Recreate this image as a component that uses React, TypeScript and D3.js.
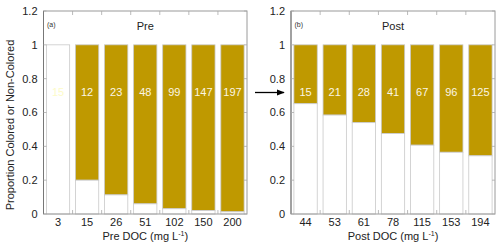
import * as d3 from "d3";

const preDOC = ["3", "15", "26", "51", "102", "150", "200"];
const preNonColored = [1, 0.2, 0.113, 0.06, 0.031, 0.021, 0.013];
const preCounts = [15, 12, 23, 48, 99, 147, 197];

const postDOC = ["44", "53", "61", "78", "115", "153", "194"];
const postNonColored = [0.652, 0.585, 0.54, 0.476, 0.407, 0.365, 0.344];
const postCounts = [15, 21, 28, 41, 67, 96, 125];

const yTicks = [0, 0.2, 0.4, 0.6, 0.8, 1, 1.2];

const GOLD = "#bf9900";
const FONT = "Liberation Sans, Arial, sans-serif";

interface PanelProps {
  x0: number;
  x1: number;
  cats: string[];
  nonColored: number[];
  counts: number[];
  tag: string;
  title: string;
  xTitle: string;
  yTitle?: string;
}

function Panel({ x0, x1, cats, nonColored, counts, tag, title, xTitle, yTitle }: PanelProps) {
  const top = 11;
  const bottom = 214;
  const x = d3.scaleBand<string>().domain(cats).range([x0, x1]).paddingInner(0.2).paddingOuter(0.1);
  const y = d3.scaleLinear().domain([0, 1.2]).range([bottom, top]);
  const step = x.step();
  // boundaries between bands, for the small inward ticks
  const bounds = cats.slice(1).map((c) => (x(c) as number) - (step - x.bandwidth()) / 2);
  const cx = (x0 + x1) / 2;

  return (
    <g fontFamily={FONT}>
      {cats.map((c, i) => {
        const bx = x(c) as number;
        const w = x.bandwidth();
        const v = nonColored[i];
        return (
          <g key={c}>
            {v < 1 && (
              <rect x={bx} y={y(1)} width={w} height={y(v) - y(1)} fill={GOLD} stroke="#c9c9c9" strokeWidth={0.8} />
            )}
            <rect x={bx} y={y(v)} width={w} height={y(0) - y(v)} fill="#fff" stroke="#c9c9c9" strokeWidth={0.8} />
            <text
              x={bx + w / 2}
              y={y(0.72)}
              dy="0.35em"
              textAnchor="middle"
              fontSize={11}
              fill={v < 1 ? "#fbf6e4" : "#fdfbc8"}
            >
              {counts[i]}
            </text>
            <text x={bx + w / 2} y={225.5} textAnchor="middle" fontSize={11} fill="#222">
              {c}
            </text>
          </g>
        );
      })}

      {/* frame */}
      <rect x={x0} y={top} width={x1 - x0} height={bottom - top} fill="none" stroke="#9a9a9a" strokeWidth={1} />
      <line x1={x0} x2={x0} y1={top} y2={bottom} stroke="#777" strokeWidth={1} />

      {bounds.map((b, i) => (
        <g key={i} stroke="#aaa" strokeWidth={0.8}>
          <line x1={b} x2={b} y1={bottom} y2={bottom - 4} />
          <line x1={b} x2={b} y1={top} y2={top + 4} />
        </g>
      ))}

      {yTicks.map((t) => (
        <g key={t}>
          <line x1={x0} x2={x0 + 3} y1={y(t)} y2={y(t)} stroke="#aaa" strokeWidth={0.8} />
          <line x1={x1} x2={x1 - 3} y1={y(t)} y2={y(t)} stroke="#aaa" strokeWidth={0.8} />
          <text x={x0 - 6} y={y(t)} dy="0.35em" textAnchor="end" fontSize={11} fill="#222">
            {t}
          </text>
        </g>
      ))}

      <text x={x0 + 3.5} y={26.5} fontSize={7} fill="#333">
        {tag}
      </text>
      <text x={cx} y={30} textAnchor="middle" fontSize={11} fill="#222">
        {title}
      </text>

      <text x={cx} y={240} textAnchor="middle" fontSize={11} fill="#222">
        {xTitle} (mg L
        <tspan dy={-4} fontSize={7}>
          -1
        </tspan>
        <tspan dy={4}>)</tspan>
      </text>

      {yTitle && (
        <text
          transform={`translate(14,125) rotate(-90)`}
          textAnchor="middle"
          fontSize={11}
          fill="#222"
        >
          {yTitle}
        </text>
      )}
    </g>
  );
}

export default function App() {
  return (
    <div style={{ position: "fixed", left: 0, top: 0 }}>
      <svg width={500} height={247} style={{ display: "block", background: "#fff" }}>
        <defs>
          <marker id="head" viewBox="0 0 10 10" refX={9} refY={5} markerWidth={6} markerHeight={6} orient="auto">
            <path d="M0,1 L10,5 L0,9 Z" fill="#000" />
          </marker>
        </defs>
        <Panel
          x0={43.5}
          x1={247}
          cats={preDOC}
          nonColored={preNonColored}
          counts={preCounts}
          tag="(a)"
          title="Pre"
          xTitle="Pre DOC"
          yTitle="Proportion Colored or Non-Colored"
        />
        <Panel
          x0={291}
          x1={495}
          cats={postDOC}
          nonColored={postNonColored}
          counts={postCounts}
          tag="(b)"
          title="Post"
          xTitle="Post DOC"
        />
        <line x1={255} x2={284} y1={92.5} y2={92.5} stroke="#000" strokeWidth={1.3} markerEnd="url(#head)" />
      </svg>
    </div>
  );
}
